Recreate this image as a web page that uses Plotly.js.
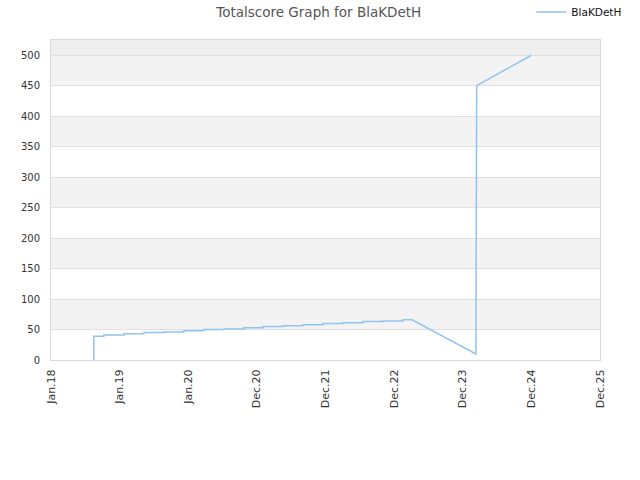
<!DOCTYPE html>
<html>
<head>
<meta charset="utf-8">
<script src="https://cdn.plot.ly/plotly-3.0.1.min.js"></script>
<style>
  html, body { margin: 0; padding: 0; background: #fff; }
  #chart { width: 640px; height: 480px; }
</style>
</head>
<body>
<div id="chart"></div>
<script>
  // score history: a staircase, then a drop and a jump
  const startDate = '2018-08-17';
  const stepDates = ['2018-08-17', '2018-10-09', '2019-01-24', '2019-05-10', '2019-08-25',
    '2019-12-09', '2020-03-24', '2020-07-09', '2020-10-23', '2021-02-01', '2021-05-19',
    '2021-09-02', '2021-12-17', '2022-04-03', '2022-07-18', '2022-11-01', '2023-02-16'];
  const stepScores = [39, 41, 43, 45, 46, 48, 50, 51, 53, 55, 56, 58, 60, 61, 63, 64, 66];
  const tailDates = ['2023-04-05', '2024-03-10', '2024-03-14', '2024-12-30'];
  const tailScores = [66, 10, 450, 500];

  const tickDates = ['2018-01-01', '2019-01-01', '2020-01-01', '2020-12-31', '2021-12-31',
    '2022-12-31', '2023-12-31', '2024-12-30', '2025-12-30'];
  const tickLabels = ['Jan.18', 'Jan.19', 'Jan.20', 'Dec.20', 'Dec.21', 'Dec.22', 'Dec.23', 'Dec.24', 'Dec.25'];
  const yTicks = [0, 50, 100, 150, 200, 250, 300, 350, 400, 450, 500];

  const FONT = 'DejaVu Sans, Verdana, sans-serif';

  // build the staircase: each change is a vertical step at its date
  const xs = [startDate], ys = [0];
  let prev = 0;
  stepDates.forEach((d, i) => {
    xs.push(d, d);
    ys.push(prev, stepScores[i]);
    prev = stepScores[i];
  });
  tailDates.forEach((d, i) => { xs.push(d); ys.push(tailScores[i]); });

  // alternating grey bands between grid lines
  const bands = [];
  for (let i = 1; i < yTicks.length - 1; i += 2) {
    bands.push({
      type: 'rect', xref: 'paper', yref: 'y', x0: 0, x1: 1,
      y0: yTicks[i], y1: yTicks[i + 1],
      fillcolor: '#f3f3f3', line: { width: 0 }, layer: 'below',
    });
  }
  bands.push({
    type: 'rect', xref: 'paper', yref: 'y', x0: 0, x1: 1, y0: 500, y1: 525,
    fillcolor: '#eeeeee', line: { width: 0 }, layer: 'below',
  });

  Plotly.newPlot('chart', [{
    type: 'scatter', mode: 'lines',
    x: xs, y: ys, name: 'BlaKDetH',
    line: { color: '#90c3f2', width: 1.5 },
    hoverinfo: 'x+y',
  }], {
    width: 640, height: 480,
    paper_bgcolor: '#fff', plot_bgcolor: '#fff',
    font: { family: FONT, size: 10, color: '#333' },
    margin: { l: 51, r: 40, t: 40, b: 120, autoexpand: false },
    title: { text: 'Totalscore Graph for BlaKDetH', x: 0.498, xanchor: 'center',
             y: 0.975, yanchor: 'middle',
             font: { family: FONT, size: 13.5, color: '#555' } },
    showlegend: true,
    legend: { x: 1.048, xanchor: 'right', y: 1.0875, yanchor: 'middle', orientation: 'h',
              font: { family: FONT, size: 10.5, color: '#111' }, itemwidth: 30 },
    xaxis: {
      type: 'date', range: ['2018-01-01', '2025-12-30'],
      tickvals: tickDates, ticktext: tickLabels, tickangle: -90,
      showgrid: false, zeroline: false, ticklabelstandoff: 4,
      showline: true, mirror: true, linecolor: '#d9d9d9', linewidth: 1,
      tickfont: { family: FONT, size: 11, color: '#333' },
    },
    yaxis: {
      range: [0, 525], tickvals: yTicks,
      gridcolor: '#e0e0e0', zeroline: false, ticklabelstandoff: 8,
      showline: true, mirror: true, linecolor: '#d9d9d9', linewidth: 1,
      tickfont: { family: FONT, size: 10, color: '#333' },
    },
    shapes: bands,
  }, { displayModeBar: false, staticPlot: true });
</script>
</body>
</html>
